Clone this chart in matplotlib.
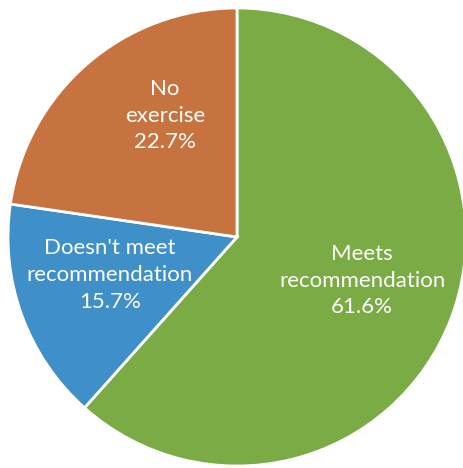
import matplotlib
matplotlib.use("Agg")
import matplotlib.pyplot as plt

# Exercise categories and shares (%)
categories = ["Meets\nrecommendation", "Doesn't meet\nrecommendation", "No\nexercise"]
shares = [61.6, 15.7, 22.7]
colors = ["#7AAB44", "#3F8FC9", "#C7733F"]

# label centres in axes data units (pie radius = 1)
label_xy = [(0.546, -0.19), (-0.555, -0.165), (-0.314, 0.53)]

fig = plt.figure(figsize=(4.64, 4.68), dpi=100)
cx, cy, r = 237, 237, 229
ax = fig.add_axes([(cx - r) / 464, 1 - (cy + r) / 468, 2 * r / 464, 2 * r / 468])

wedges, _ = ax.pie(shares, colors=colors, startangle=90, counterclock=False,
                   radius=1, wedgeprops=dict(edgecolor="white", linewidth=2))
ax.set_xlim(-1, 1)
ax.set_ylim(-1, 1)
ax.set_aspect("equal")
ax.axis("off")

for cat, val, (x, y) in zip(categories, shares, label_xy):
    ax.text(x, y, f"{cat}\n{val:.1f}%", ha="center", va="center", color="white",
            fontsize=16, family=["Lato", "DejaVu Sans"], linespacing=1.42)

fig.savefig("out.png", dpi=100)
